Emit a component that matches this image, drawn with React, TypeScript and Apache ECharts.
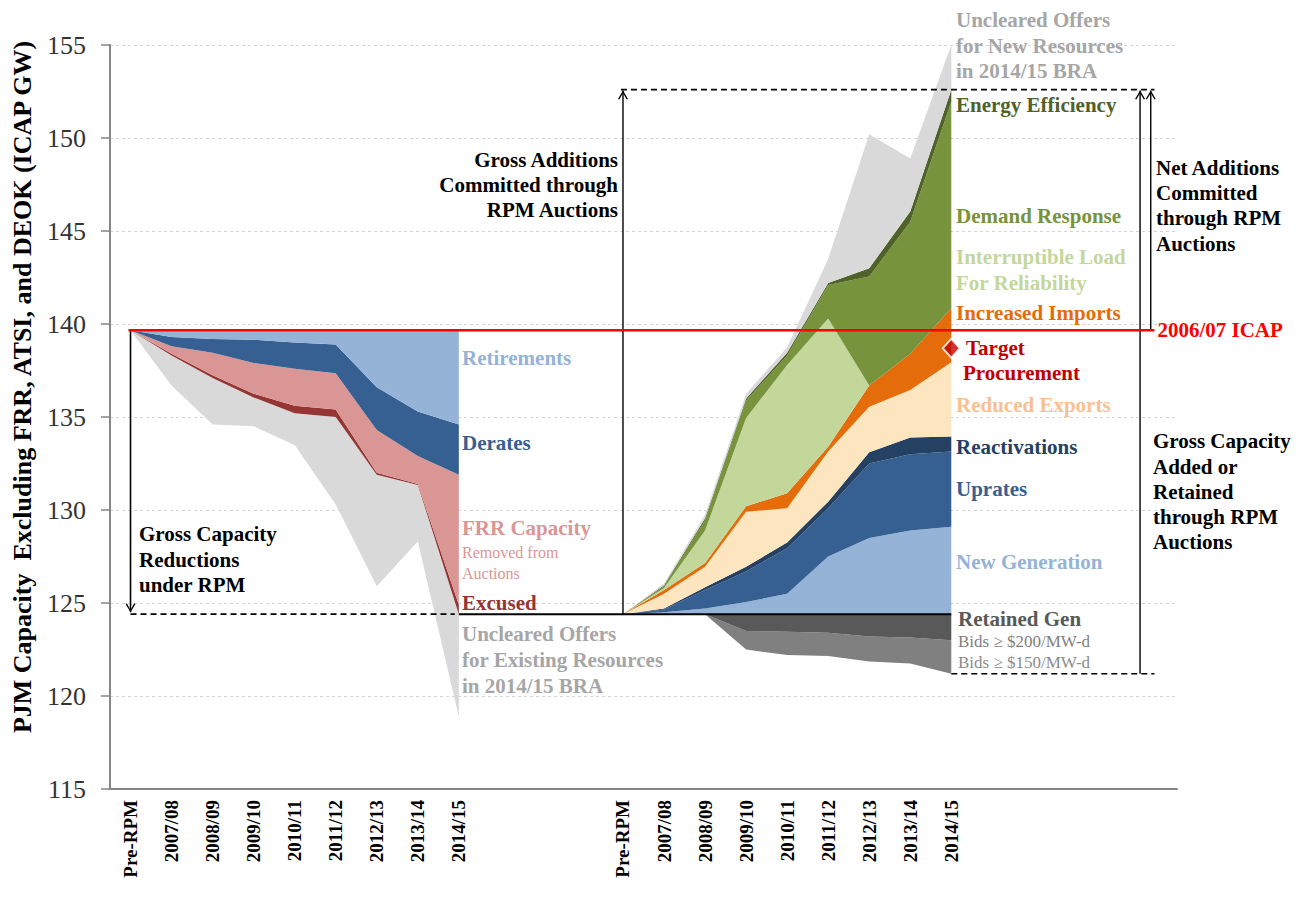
import React, { useEffect, useRef } from "react";
import * as echarts from "echarts";

const yearLabels = ["Pre-RPM", "2007/08", "2008/09", "2009/10", "2010/11", "2011/12", "2012/13", "2013/14", "2014/15"];
const categories = [...yearLabels, "", "", "", ...yearLabels, "", "", "", "", ""];

// Left panel: boundaries (GW), Pre-RPM .. 2014/15
const leftTop = [139.66, 139.66, 139.66, 139.66, 139.66, 139.66, 139.66, 139.66, 139.66];
const retirementsBottom = [139.66, 139.3, 139.2, 139.15, 139.0, 138.9, 136.6, 135.3, 134.6];
const deratesBottom = [139.66, 138.8, 138.45, 137.9, 137.6, 137.35, 134.3, 132.9, 131.9];
const frrBottom = [139.66, 138.4, 137.25, 136.25, 135.6, 135.4, 132.0, 131.4, 124.9];
const excusedBottom = [139.66, 138.3, 137.1, 136.05, 135.2, 135.0, 131.9, 131.35, 124.4];
const unclearedExistingBottom = [139.66, 136.7, 134.6, 134.5, 133.5, 130.3, 125.9, 128.3, 118.9];

// Right panel: boundaries (GW), Pre-RPM .. 2014/15
const baseline = 124.4;
const bids150Bottom = [124.4, 124.4, 124.4, 122.5, 122.2, 122.15, 121.85, 121.75, 121.2];
const bids200Bottom = [124.4, 124.4, 124.4, 123.5, 123.45, 123.4, 123.2, 123.15, 123.0];
const newGenTop = [124.4, 124.5, 124.7, 125.05, 125.5, 127.5, 128.5, 128.9, 129.1];
const upratesTop = [124.4, 124.65, 125.7, 126.7, 127.95, 130.1, 132.5, 133.0, 133.15];
const reactivationsTop = [124.4, 124.7, 125.85, 126.95, 128.25, 130.45, 133.1, 133.9, 133.95];
const reducedExportsTop = [124.4, 125.5, 126.95, 129.9, 130.1, 133.15, 135.55, 136.45, 137.95];
const increasedImportsTop = [124.4, 125.7, 127.15, 130.2, 130.9, 133.4, 136.7, 138.4, 140.85];
const interruptibleTop = [124.4, 125.8, 128.9, 134.95, 137.8, 140.3, 136.7, 138.4, 140.85];
const demandResponseTop = [124.4, 125.9, 129.45, 135.9, 138.3, 142.1, 142.55, 145.5, 151.95];
const energyEfficiencyTop = [124.4, 125.95, 129.55, 136.0, 138.45, 142.2, 143.0, 146.05, 152.6];
const unclearedNewTop = [124.4, 126.05, 129.75, 136.25, 138.75, 143.5, 150.2, 148.9, 155.0];

const icap200607 = 139.66;
const grossAdditionsTop = 152.6;
const grossAddedBottom = 121.2;
const targetProcurement = 138.7;

const N = categories.length;
const LEFT_START = 0;
const RIGHT_START = 12;

const r3 = (v: number) => Math.round(v * 1000) / 1000;
const pad = (vals: number[], start: number) => {
  const out: (number | null)[] = new Array(N).fill(null);
  vals.forEach((v, i) => (out[start + i] = r3(v)));
  return out;
};
const diff = (a: number[], b: number[]) => a.map((v, i) => v - b[i]);

const FONT = '"Liberation Serif", "Times New Roman", serif';
const ARROW = "path://M5,0 L10,9 L8.7,9.7 L5,2.6 L1.3,9.7 L0,9 Z";

const area = (name: string, stack: string, data: (number | null)[], color: string, opacity = 1) => ({
  name,
  type: "line",
  stack,
  stackStrategy: "all",
  data,
  symbol: "none",
  showSymbol: false,
  silent: true,
  lineStyle: { width: 0, opacity: 0 },
  areaStyle: { color, opacity },
  emphasis: { disabled: true },
  z: 2,
});

type Pt = [number, number];
const seg = (
  pts: Pt[],
  color: string,
  width: number,
  dashed: boolean,
  arrows: ("none" | "up" | "down")[] = ["none", "none"]
) => ({
  type: "line",
  xAxisIndex: 1,
  yAxisIndex: 0,
  silent: true,
  showSymbol: true,
  z: 5,
  itemStyle: { color },
  lineStyle: { color, width, type: dashed ? [6, 4] : "solid" },
  emphasis: { disabled: true },
  data: pts.map((p, i) => {
    const a = arrows[i];
    if (a === "none") return { value: p, symbol: "none" };
    return {
      value: p,
      symbol: ARROW,
      symbolSize: [10, 9],
      symbolRotate: a === "up" ? 0 : 180,
      symbolOffset: [0, a === "up" ? 4.5 : -4.5],
    };
  }),
});

type Lbl = { t: string; x: number; y: number; c: string; s?: number; w?: string; a?: string };
const labels: Lbl[] = [
  // left panel
  { t: "Retirements", x: 462, y: 358, c: "#95B3D7" },
  { t: "Derates", x: 462, y: 443, c: "#366092" },
  { t: "FRR Capacity", x: 462, y: 528, c: "#DA9694" },
  { t: "Removed from", x: 462, y: 552, c: "#DA9694", s: 16, w: "normal" },
  { t: "Auctions", x: 462, y: 573, c: "#DA9694", s: 16, w: "normal" },
  { t: "Excused", x: 462, y: 603, c: "#963634" },
  { t: "Uncleared Offers", x: 462, y: 634, c: "#A6A6A6" },
  { t: "for Existing Resources", x: 462, y: 660, c: "#A6A6A6" },
  { t: "in 2014/15 BRA", x: 462, y: 686, c: "#A6A6A6" },
  { t: "Gross Capacity", x: 139, y: 534, c: "#000000" },
  { t: "Reductions", x: 139, y: 560, c: "#000000" },
  { t: "under RPM", x: 139, y: 585, c: "#000000" },
  // middle
  { t: "Gross Additions", x: 618, y: 160, c: "#000000", a: "right" },
  { t: "Committed through", x: 618, y: 185, c: "#000000", a: "right" },
  { t: "RPM Auctions", x: 618, y: 210, c: "#000000", a: "right" },
  // right panel
  { t: "Uncleared Offers", x: 956, y: 20, c: "#A6A6A6" },
  { t: "for New Resources", x: 956, y: 46, c: "#A6A6A6" },
  { t: "in 2014/15 BRA", x: 956, y: 71, c: "#A6A6A6" },
  { t: "Energy Efficiency", x: 956, y: 105, c: "#4F6228" },
  { t: "Demand Response", x: 956, y: 216, c: "#77933C" },
  { t: "Interruptible Load", x: 956, y: 257, c: "#C4D79B" },
  { t: "For Reliability", x: 956, y: 283, c: "#C4D79B" },
  { t: "Increased Imports", x: 956, y: 313, c: "#E46C0A" },
  { t: "Target", x: 966, y: 348, c: "#C00000" },
  { t: "Procurement", x: 963, y: 373, c: "#C00000" },
  { t: "Reduced Exports", x: 956, y: 405, c: "#FAC090" },
  { t: "Reactivations", x: 956, y: 447, c: "#244062" },
  { t: "Uprates", x: 956, y: 489, c: "#366092" },
  { t: "New Generation", x: 956, y: 562, c: "#95B3D7" },
  { t: "Retained Gen", x: 958, y: 619, c: "#595959" },
  { t: "Bids \u2265 $200/MW-d", x: 958, y: 641, c: "#7F7F7F", s: 17, w: "normal" },
  { t: "Bids \u2265 $150/MW-d", x: 958, y: 662, c: "#8C8C8C", s: 17, w: "normal" },
  // far right
  { t: "Net Additions", x: 1156, y: 168, c: "#000000" },
  { t: "Committed", x: 1156, y: 193, c: "#000000" },
  { t: "through RPM", x: 1156, y: 218, c: "#000000" },
  { t: "Auctions", x: 1156, y: 244, c: "#000000" },
  { t: "Gross Capacity", x: 1153, y: 441, c: "#000000" },
  { t: "Added or", x: 1153, y: 467, c: "#000000" },
  { t: "Retained", x: 1153, y: 492, c: "#000000" },
  { t: "through RPM", x: 1153, y: 517, c: "#000000" },
  { t: "Auctions", x: 1153, y: 542, c: "#000000" },
];

export default function App() {
  const ref = useRef<HTMLDivElement>(null);
  useEffect(() => {
    document.body.style.margin = "0";
    if (!ref.current) return;
    const chart = echarts.init(ref.current, undefined, { renderer: "svg" });
    const L = (v: number[]) => pad(v, LEFT_START);
    const R = (v: number[]) => pad(v, RIGHT_START);
    const base = new Array(9).fill(baseline);
    const cx = (i: number) => i + 0.5; // category index -> value-axis x

    const series: any[] = [
      // left stack
      area("lbase", "L", L(unclearedExistingBottom), "#ffffff", 0),
      area("Uncleared Existing", "L", L(diff(excusedBottom, unclearedExistingBottom)), "#D9D9D9"),
      area("Excused", "L", L(diff(frrBottom, excusedBottom)), "#963634"),
      area("FRR Capacity", "L", L(diff(deratesBottom, frrBottom)), "#DA9694"),
      area("Derates", "L", L(diff(retirementsBottom, deratesBottom)), "#366092"),
      area("Retirements", "L", L(diff(leftTop, retirementsBottom)), "#95B3D7"),
      // right stack
      area("rbase", "R", R(bids150Bottom), "#ffffff", 0),
      area("Bids150", "R", R(diff(bids200Bottom, bids150Bottom)), "#808080"),
      area("Bids200", "R", R(diff(base, bids200Bottom)), "#595959"),
      area("New Generation", "R", R(diff(newGenTop, base)), "#95B3D7"),
      area("Uprates", "R", R(diff(upratesTop, newGenTop)), "#366092"),
      area("Reactivations", "R", R(diff(reactivationsTop, upratesTop)), "#244062"),
      area("Reduced Exports", "R", R(diff(reducedExportsTop, reactivationsTop)), "#FDE6BF"),
      area("Increased Imports", "R", R(diff(increasedImportsTop, reducedExportsTop)), "#E46C0A"),
      area("Interruptible Load", "R", R(diff(interruptibleTop, increasedImportsTop)), "#C4D79B"),
      area("Demand Response", "R", R(diff(demandResponseTop, interruptibleTop)), "#77933C"),
      area("Energy Efficiency", "R", R(diff(energyEfficiencyTop, demandResponseTop)), "#4F6228"),
      area("Uncleared New", "R", R(diff(unclearedNewTop, energyEfficiencyTop)), "#D9D9D9"),
      // annotation lines
      seg([[cx(0), baseline], [cx(8) - 0.1, baseline]], "#000000", 1.6, true),
      seg([[cx(8), baseline], [cx(20), baseline]], "#000000", 2, false),
      seg([[cx(12) - 0.05, grossAdditionsTop], [25.45, grossAdditionsTop]], "#000000", 1.6, true),
      seg([[cx(20), grossAddedBottom], [25.45, grossAddedBottom]], "#000000", 1.6, true),
      seg([[cx(0), icap200607], [cx(0), baseline + 0.1]], "#000000", 1.6, false, ["none", "down"]),
      seg([[cx(12), baseline], [cx(12), grossAdditionsTop - 0.05]], "#000000", 1.4, false, ["none", "up"]),
      seg([[25.1, grossAddedBottom], [25.1, grossAdditionsTop - 0.05]], "#000000", 1.4, false, ["none", "up"]),
      seg([[25.36, icap200607], [25.36, grossAdditionsTop - 0.05]], "#000000", 1.4, false, ["none", "up"]),
      {
        type: "line",
        xAxisIndex: 1,
        silent: true,
        symbol: "none",
        z: 6,
        lineStyle: { color: "#FF0000", width: 2.5 },
        data: [[0.45, icap200607], [25.45, icap200607]],
        endLabel: {
          show: true,
          formatter: "2006/07 ICAP",
          color: "#FF0000",
          fontWeight: "bold",
          fontSize: 21,
          fontFamily: FONT,
          distance: 3,
        },
        emphasis: { disabled: true },
      },
      {
        type: "scatter",
        xAxisIndex: 1,
        silent: true,
        z: 7,
        symbol: "diamond",
        symbolSize: [17, 19],
        itemStyle: { color: "#C00000", borderColor: "#ffffff", borderWidth: 2 },
        data: [[cx(20), targetProcurement]],
      },
    ];

    const graphic: any[] = labels.map((l) => ({
      type: "text",
      x: l.x,
      y: l.y,
      silent: true,
      z: 100,
      style: {
        text: l.t,
        fill: l.c,
        font: `${l.w || "bold"} ${l.s || 21}px ${FONT}`,
        textAlign: l.a || "left",
        textVerticalAlign: "middle",
        align: l.a || "left",
        verticalAlign: "middle",
      },
    }));
    graphic.push({
      type: "text",
      x: 22,
      y: 387,
      rotation: Math.PI / 2,
      silent: true,
      style: {
        text: "PJM Capacity  Excluding FRR, ATSI, and DEOK (ICAP GW)",
        fill: "#000000",
        font: `bold 26px ${FONT}`,
        textAlign: "center",
        textVerticalAlign: "middle",
        align: "center",
        verticalAlign: "middle",
      },
    });

    chart.setOption({
      animation: false,
      backgroundColor: "#ffffff",
      grid: { left: 110, top: 45, width: 1067, height: 744, containLabel: false, outerBoundsMode: "none" },
      xAxis: [
        {
          type: "category",
          data: categories,
          boundaryGap: true,
          axisLine: { onZero: false, lineStyle: { color: "#868686", width: 2 } },
          axisTick: { show: false },
          splitLine: { show: false },
          axisLabel: {
            interval: 0,
            rotate: 90,
            margin: 11,
            color: "#000000",
            fontWeight: "bold",
            fontSize: 19,
            fontFamily: FONT,
          },
        },
        { type: "value", min: 0, max: N, show: false },
      ],
      yAxis: {
        type: "value",
        min: 115,
        max: 155,
        interval: 5,
        axisLine: { show: true, lineStyle: { color: "#868686", width: 2 } },
        axisTick: { show: true, inside: false, length: 9, lineStyle: { color: "#868686", width: 1.5 } },
        axisLabel: { color: "#333333", fontSize: 26, fontFamily: FONT, margin: 24 },
        splitLine: { show: true, lineStyle: { color: "#D4D4D4", width: 1, type: [3, 3] } },
      },
      series,
      graphic,
    });
    return () => chart.dispose();
  }, []);
  return <div ref={ref} style={{ width: 1308, height: 900 }} />;
}
